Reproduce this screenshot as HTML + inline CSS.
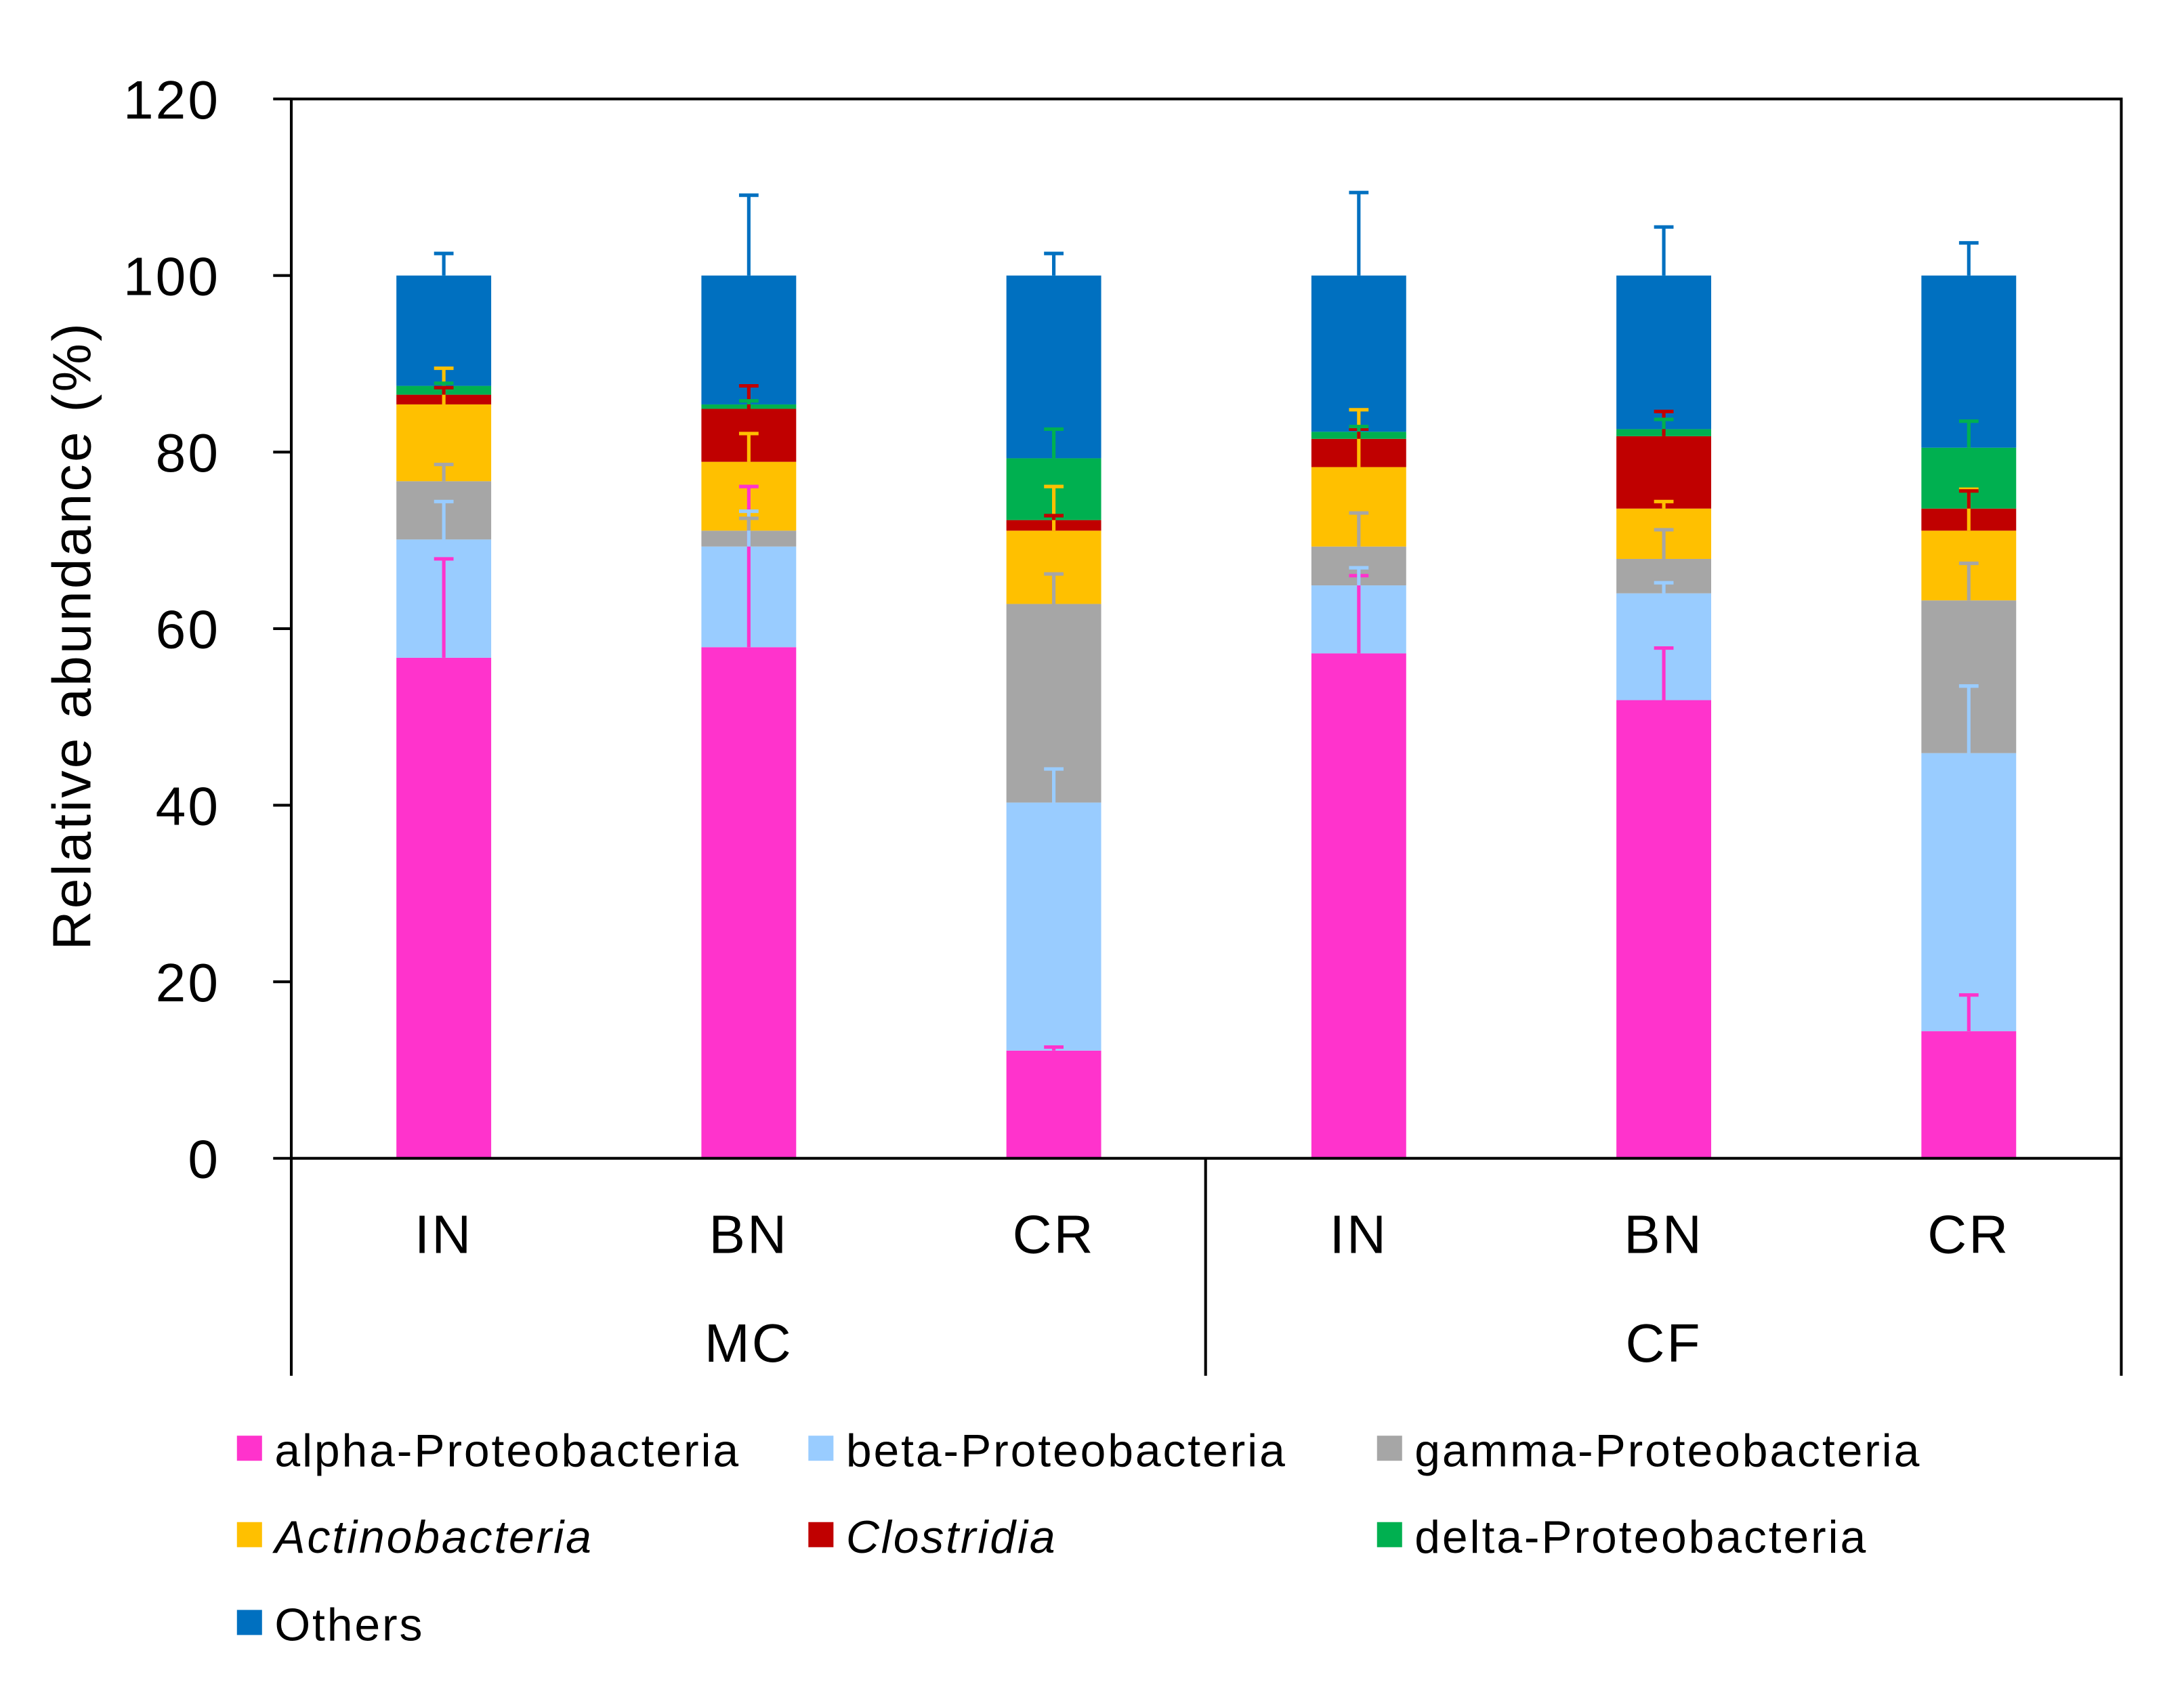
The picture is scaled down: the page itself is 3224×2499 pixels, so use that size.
<!DOCTYPE html>
<html><head><meta charset="utf-8"><style>
html,body{margin:0;padding:0;background:#fff;}
svg{display:block;font-family:"Liberation Sans",Arial,sans-serif;}
</style></head><body>
<svg id="chart" width="3224" height="2499" viewBox="0 0 1567 1214.6" xmlns="http://www.w3.org/2000/svg">
<rect width="1600" height="1250" fill="#fff"/>
<g id="bars"></g>
<g id="axes"></g>
<g id="legend"></g>
</svg>
<script>
const groups = ["IN","BN","CR","IN","BN","CR"];
const parents = ["MC","CF"];
const seriesNames = ["alpha-Proteobacteria","beta-Proteobacteria","gamma-Proteobacteria","Actinobacteria","Clostridia","delta-Proteobacteria","Others"];
const italicSeries = [false,false,false,true,true,false,false];
const colors = ["#FF33CC","#99CCFF","#A6A6A6","#FFC000","#C00000","#00B050","#0070C0"];
// cumulative tops per bar
const alphaTop = [56.7,57.9,12.2,57.2,51.9,14.4];
const betaTop  = [70.1,69.3,40.3,64.9,64.0,45.9];
const gammaTop = [76.7,71.1,62.8,69.3,67.9,63.2];
const actinoTop= [85.4,78.9,71.1,78.3,73.6,71.1];
const closTop  = [86.5,84.9,72.3,81.5,81.8,73.6];
const deltaTop = [87.5,85.4,79.3,82.3,82.6,80.5];
const othersTop= [100,100,100,100,100,100];
// error bar upper ends
const alphaErr = [67.9,76.1,12.6,66.0,57.8,18.5];
const betaErr  = [74.4,73.3,44.1,66.9,65.2,53.5];
const gammaErr = [78.6,72.5,66.2,73.1,71.2,67.4];
const actinoErr= [89.5,82.1,76.1,84.8,74.4,75.8];
const closErr  = [87.3,87.5,72.8,82.6,84.6,75.6];
const deltaErr = [87.8,85.8,82.6,82.9,83.7,83.5];
const othersErr= [102.5,109.1,102.5,109.4,105.5,103.7];
const yTicks = [0,20,40,60,80,100,120];

const tops=[alphaTop,betaTop,gammaTop,actinoTop,closTop,deltaTop,othersTop];
const errs=[alphaErr,betaErr,gammaErr,actinoErr,closErr,deltaErr,othersErr];
const NS="http://www.w3.org/2000/svg";
const X0=209,X1=1522,Y0=831,Y1=71;
const y=v=>Y0-(v-0)/120*(Y0-Y1);
const slot=(X1-X0)/groups.length;
const xc=i=>X0+slot*(i+0.5);
const BW=68;
function mk(tag,attrs,parent,text){const e=document.createElementNS(NS,tag);for(const k in attrs)e.setAttribute(k,attrs[k]);if(text!==undefined)e.textContent=text;parent.appendChild(e);return e;}
const gb=document.getElementById('bars');
groups.forEach((g,i)=>{
  let prev=0;
  tops.forEach((arr,s)=>{
    const r=mk('rect',{x:xc(i)-BW/2,y:y(arr[i]),width:BW,height:y(prev)-y(arr[i]),fill:colors[s]},gb);
    
    
    prev=arr[i];
  });
  tops.forEach((arr,s)=>{
    const e=errs[s][i];
    if(e>arr[i]){
      const gg=mk('g',{stroke:colors[s],'stroke-width':2.5},gb);
      
      
      mk('line',{x1:xc(i),x2:xc(i),y1:y(arr[i]),y2:y(e)},gg);
      mk('line',{x1:xc(i)-7,x2:xc(i)+7,y1:y(e),y2:y(e)},gg);
    }
  });
});
const ga=document.getElementById('axes');
mk('rect',{x:X0,y:Y1,width:X1-X0,height:Y0-Y1,fill:'none',stroke:'#000','stroke-width':2},ga);
yTicks.forEach(t=>{
  mk('line',{x1:X0-13,x2:X0,y1:y(t),y2:y(t),stroke:'#000','stroke-width':2},ga);
  const tx=mk('text',{x:158,y:y(t)+14,'text-anchor':'end','font-size':39,'letter-spacing':1.5},ga,String(t));
  
  
});
const yt=mk('text',{x:0,y:0,transform:'translate(65,456) rotate(-90)','text-anchor':'middle','font-size':39,'letter-spacing':1.6,'xml:space':'preserve'},ga,'Relative abundance  (%)');


[X0,(X0+X1)/2-0.5,X1].forEach(x=>mk('line',{x1:x,x2:x,y1:Y0,y2:987,stroke:'#000','stroke-width':2},ga));
groups.forEach((g,i)=>{
  const t=mk('text',{x:xc(i),y:899,'text-anchor':'middle','font-size':39,'letter-spacing':1.5},ga,g);
  
  
});
parents.forEach((p,j)=>{
  const t=mk('text',{x:xc(j*3+1),y:977,'text-anchor':'middle','font-size':39,'letter-spacing':1.5},ga,p);
  
  
});
const gl=document.getElementById('legend');
const lx=[170,580,988],ly=[1040,1102,1165];
seriesNames.forEach((n,s)=>{
  const cx=lx[s%3],cy=ly[Math.floor(s/3)];
  const g=mk('g',{},gl);
  
  
  mk('rect',{x:cx,y:cy-10,width:18,height:18,fill:colors[s]},g);
  const t=mk('text',{x:cx+27,y:cy+12,'font-size':33,'letter-spacing':1.4},g,n);
  if(italicSeries[s])t.setAttribute('font-style','italic');
});
</script>
</body></html>
